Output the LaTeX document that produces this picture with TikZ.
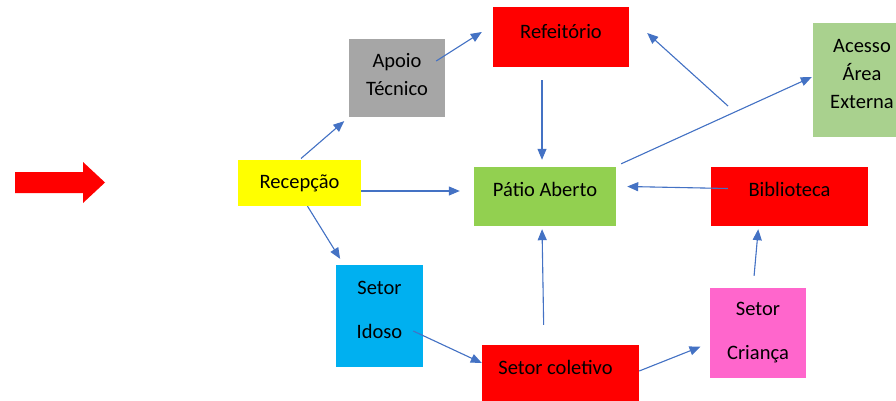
\documentclass[tikz,border=0pt]{standalone}
\usepackage{fontspec}
\setmainfont{Carlito}
\usetikzlibrary{arrows.meta}
\definecolor{azul}{HTML}{4472C4}
\definecolor{vermelho}{HTML}{FF0000}
\definecolor{cinza}{HTML}{A6A6A6}
\definecolor{amarelo}{HTML}{FFFF00}
\definecolor{verdeclaro}{HTML}{A9D18E}
\definecolor{verde}{HTML}{92D050}
\definecolor{ciano}{HTML}{00B0F0}
\definecolor{rosa}{HTML}{FF66CC}
\begin{document}
\begin{tikzpicture}[x=1pt, y=1pt,
		caixa/.style={rectangle, inner sep=0pt},
		texto/.style={inner sep=0pt, align=center, font=\fontsize{20.5}{28}\selectfont},
		seta/.style={-{Triangle[length=11pt,width=9pt]}, draw=azul, fill=azul, line width=1.1pt}]
			\useasboundingbox (0,0) rectangle (896,-401);
			% seta de entrada
			\fill[vermelho] (15,-172) -- (83,-172) -- (83,-162) -- (105,-182.5) -- (83,-203) -- (83,-193) -- (15,-193) -- cycle;

			% caixas
			\node[caixa, fill=amarelo, minimum width=123, minimum height=46] (rec) at (299.5,-183) {};
			\node[caixa, fill=cinza, minimum width=96, minimum height=78] (apoio) at (397,-78) {};
			\node[caixa, fill=vermelho, minimum width=136, minimum height=60] (ref) at (561,-37) {};
			\node[caixa, fill=verdeclaro, minimum width=98, minimum height=114] (acesso) at (862,-80) {};
			\node[caixa, fill=verde, minimum width=142, minimum height=59] (pat) at (545,-196.5) {};
			\node[caixa, fill=vermelho, minimum width=157, minimum height=59] (bib) at (789.5,-196.5) {};
			\node[caixa, fill=ciano, minimum width=87, minimum height=102] (idoso) at (379.5,-316) {};
			\node[caixa, fill=vermelho, minimum width=157, minimum height=58] (col) at (560.5,-374) {};
			\node[caixa, fill=rosa, minimum width=96, minimum height=90] (cri) at (758,-333) {};
			\coordinate (livre) at (728,-106);

			% textos
			\node[texto] (rec-t) at (rec) {Recepção};
			\node[texto] (apoio-t) at ([yshift=3]apoio) {Apoio\\Técnico};
			\node[texto] (ref-t) at ([yshift=5]ref) {Refeitório};
			\node[texto] (acesso-t) at ([yshift=6]acesso) {Acesso\\Área\\Externa};
			\node[texto] (pat-t) at ([yshift=7]pat) {Pátio Aberto};
			\node[texto] (bib-t) at ([yshift=7]bib) {Biblioteca};
			\node[texto] (idoso-t) at ([yshift=6]idoso) {Setor\\[16pt]Idoso};
			\node[texto] (col-t) at ([shift={(-5,7)}]col) {Setor coletivo};
			\node[texto] (cri-t) at (cri) {Setor\\[16pt]Criança};

			\path (rec.north) edge[seta, shorten <=2pt, shorten >=6pt] (apoio.south west);
			\path ([xshift=8]rec.south) edge[seta, shorten >=7pt] ([xshift=8]idoso.north west);
			\path ([yshift=-8]rec.east) edge[seta, shorten >=14pt] ([yshift=5.5]pat.west);
			\path ([shift={(-9,17)}]apoio.east) edge[seta] ([shift={(-11,5)}]ref.west);
			\path ([xshift=-19]ref.south) edge[seta, shorten <=13pt, shorten >=7pt] ([xshift=-3]pat.north);
			\path (livre) edge[seta] ([shift={(18,4)}]ref.east);
			\path ([shift={(5,3)}]pat.north east) edge[seta] ([shift={(-1,3)}]acesso.west);
			\path ([shift={(17,8)}]bib.west) edge[seta] ([shift={(11,10)}]pat.east);
			\path ([xshift=-5]cri.north) edge[seta, shorten <=12pt, shorten >=3pt] ([xshift=-31]bib.south);
			\path ([xshift=-16.5]col.north) edge[seta, shorten <=20pt, shorten >=3pt] ([xshift=-3]pat.south);
			\path ([shift={(-10,-15)}]idoso.east) edge[seta] ([yshift=11]col.west);
			\path ([yshift=3]col.east) edge[seta, shorten >=10pt] ([yshift=-10]cri.west);
		\end{tikzpicture}
\end{document}
